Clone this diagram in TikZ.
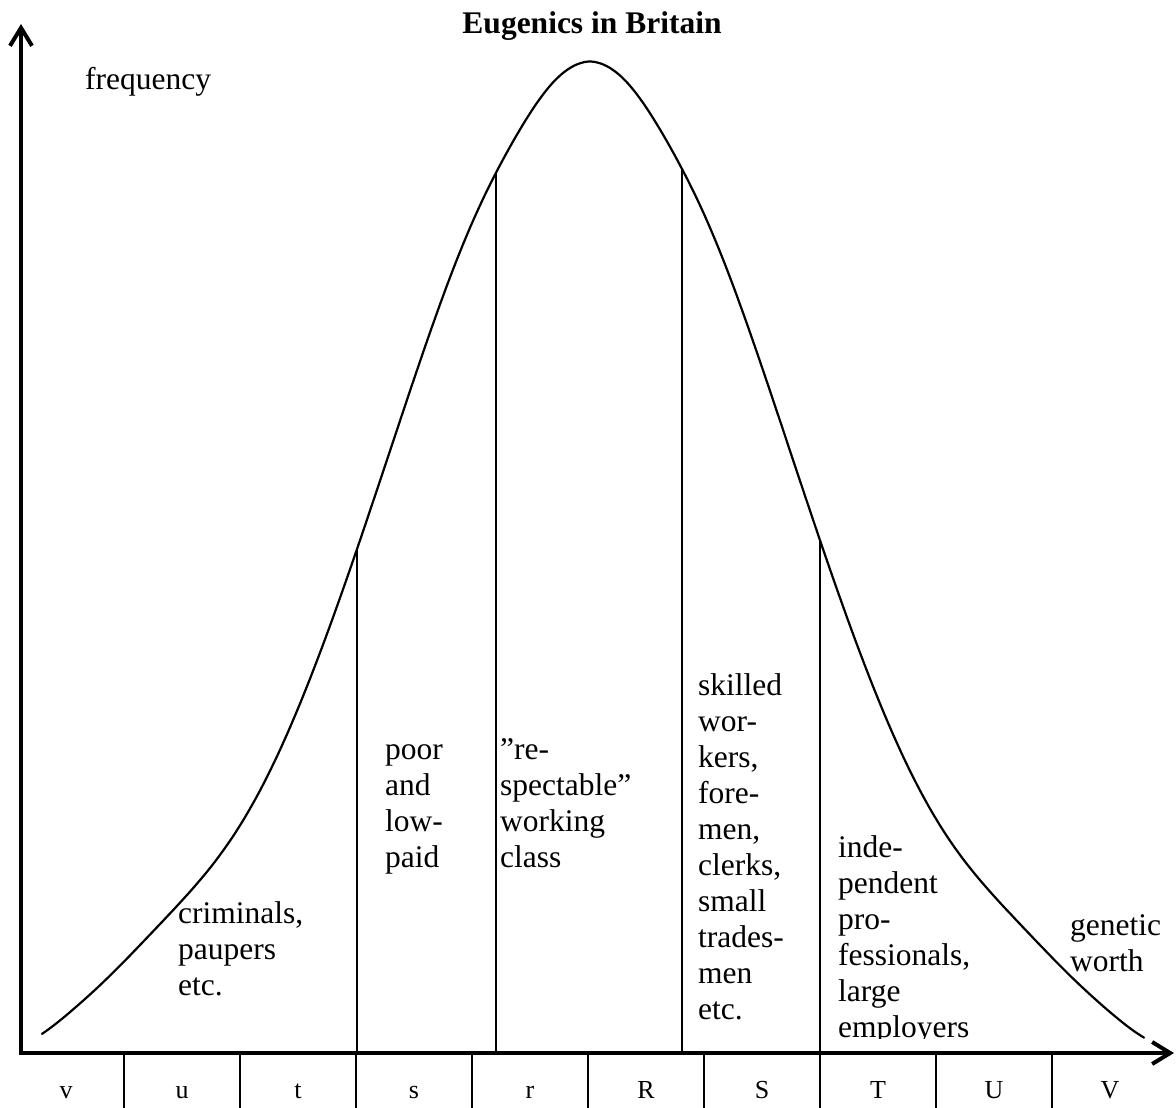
\documentclass[tikz,border=0pt]{standalone}
\usepackage{fontspec}
\setmainfont{Liberation Serif}
\usetikzlibrary{arrows.meta}
\newcommand\bodyfont{\fontsize{31.5}{36}\selectfont}
\newcommand\classfont{\fontsize{26}{30}\selectfont}
\begin{document}
\begin{tikzpicture}[x=1pt,y=-1pt,
  declare function={
    % normalised frequency at distance \dist from the mean
    gw(\dist)=exp(0-(\dist/100)^2/8)
      - 0.01*exp(0-min(((\dist-75)/45)^2,20))
      + 0.03*exp(0-min(((\dist-430)/85)^2,20))
      - 0.012*exp(0-min(((\dist-570)/45)^2,20));
    bell(\x)=1052-991*gw(abs(\x-590));
  },
  barb/.tip={Straight Barb[length=18pt,width=22pt]},
  axis/.style={line width=4pt, line join=miter, barb-barb},
  bellcurve/.style={line width=2.2pt, line cap=round, line join=round},
  divider/.style={line width=2pt},
  tickline/.style={line width=1.6pt},
  lbl/.style={anchor=north west, inner sep=0pt, align=left, font=\bodyfont},
  cls/.style={anchor=base, inner sep=0pt, font=\classfont}]
\useasboundingbox (0,0) rectangle (1176,1108);

% axes
\coordinate (ytip) at (21,24);
\coordinate (O) at (21,1053);
\coordinate (xtip) at (1174,1053);
\draw[axis] (ytip) -- (O) -- (xtip);

% bell curve
\draw[bellcurve] plot[domain=42:1144, samples=320] (\x,{bell(\x)});

% class boundaries, from the curve down to the axis
\coordinate (c1) at (357,{bell(357)});
\coordinate (c2) at (496,{bell(496)});
\coordinate (c3) at (682,{bell(682)});
\coordinate (c4) at (820,{bell(820)});
\foreach \c in {c1,c2,c3,c4}
  \draw[divider] (\c) -- (\c |- O);

% scale of genetic worth below the axis
\foreach \x in {124,240,356,472,588,704,820,936,1052}
  \draw[tickline] (\x,1053) -- (\x,1108);
\foreach \t [count=\i from 0] in {v,u,t,s,r,R,S,T,U,V}
  \node[cls] (k\i) at (66+116*\i,1098) {\t};

% headings
\node[anchor=base, inner sep=0pt, font=\bodyfont\bfseries] (title) at (592,34) {Eugenics in Britain};
\node[anchor=base west, inner sep=0pt, font=\bodyfont] (freq) at (85,89) {frequency};

% class labels
\node[lbl] (crim) at (178,897.8) {\strut criminals,\\paupers\\etc.};
\node[lbl] (poor) at (385,733.8) {\strut poor\\and\\low-\\paid};
\node[lbl] (resp) at (500,733.8) {\strut ”re-\\spectable”\\working\\class};
\node[lbl] (skil) at (698,669.8) {\strut skilled\\wor-\\kers,\\fore-\\men,\\clerks,\\small\\trades-\\men\\etc.};
\begin{scope}
  \clip (830,800) rectangle (1060,1038);
  \node[lbl] (prof) at (838,831.8) {\strut inde-\\pendent\\pro-\\fessionals,\\large\\employers};
\end{scope}
\node[lbl] (gene) at (1070,909.8) {\strut genetic\\worth};
\end{tikzpicture}
\end{document}
